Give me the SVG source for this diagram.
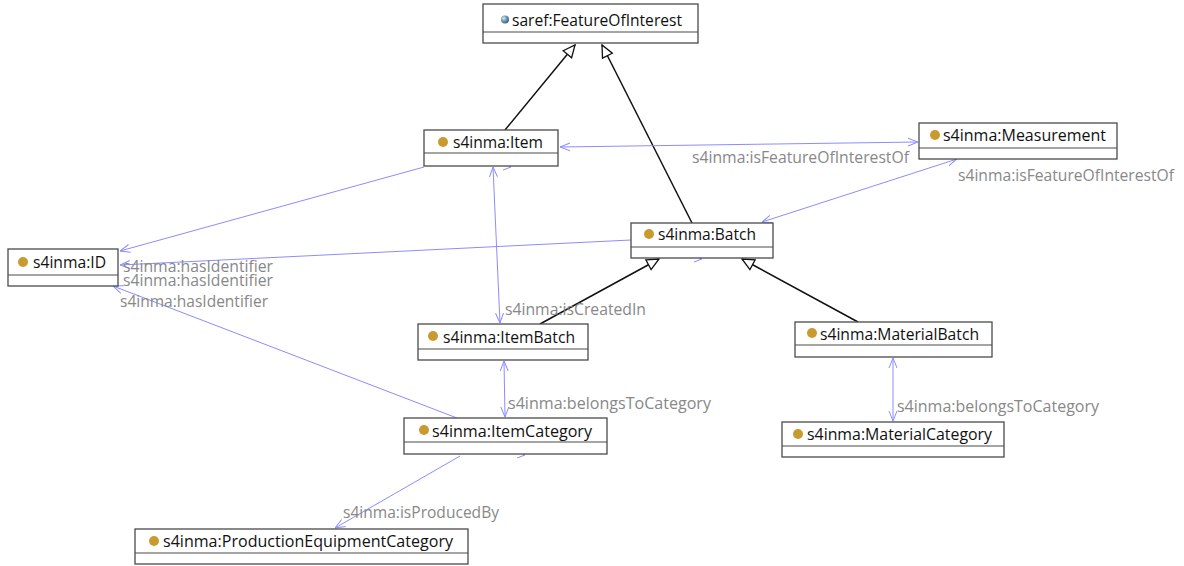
<svg xmlns="http://www.w3.org/2000/svg" width="1184" height="566" viewBox="0 0 1184 566">
<style>
.box{fill:#ffffff;stroke:#4a4a4a;stroke-width:1.3}
.div{stroke:#4a4a4a;stroke-width:1.2}
.name{font-family:"Open Sans","Noto Sans","DejaVu Sans",sans-serif;font-size:17px;fill:#111111}
.lbl{font-family:"Open Sans","Noto Sans","DejaVu Sans",sans-serif;font-size:16.5px;fill:#888888}
.dot{fill:#c99b2f}
.rel{fill:none;stroke:#8c8cff;stroke-width:1}
.gen{fill:none;stroke:#111111;stroke-width:1.5}
.chev{fill:none;stroke:#8c8cff;stroke-width:1}
</style>
<defs>
<marker id="open" viewBox="0 0 10 10" refX="10" refY="5" markerWidth="10" markerHeight="10" markerUnits="userSpaceOnUse" orient="auto-start-reverse">
<path d="M0,1 L10,5 L0,9" fill="none" stroke="#8c8cff" stroke-width="1"/>
</marker>
<marker id="tri" viewBox="0 0 14 14" refX="13" refY="7" markerWidth="14" markerHeight="14" markerUnits="userSpaceOnUse" orient="auto">
<path d="M1,1.5 L13,7 L1,12.5 Z" fill="#ffffff" stroke="#111111" stroke-width="1.3"/>
</marker>
<radialGradient id="globe" cx="0.35" cy="0.35" r="0.7">
<stop offset="0" stop-color="#e0ecf4"/>
<stop offset="0.5" stop-color="#6f9ab8"/>
<stop offset="1" stop-color="#3b5f7a"/>
</radialGradient>
</defs>

<g id="connectors">
<path class="gen" d="M505,130 L575,45" marker-end="url(#tri)"/>
<path class="gen" d="M692,223 L602,45" marker-end="url(#tri)"/>
<path class="gen" d="M540,324 L659,259" marker-end="url(#tri)"/>
<path class="gen" d="M858,322 L742,259" marker-end="url(#tri)"/>
<path class="rel" d="M560,147 L918,142" marker-start="url(#open)" marker-end="url(#open)"/>
<path class="rel" d="M957,159 L762,222" marker-start="url(#open)" marker-end="url(#open)"/>
<path class="rel" d="M424,167 L120,251" marker-end="url(#open)"/>
<path class="rel" d="M631,240 L120,265" marker-end="url(#open)"/>
<path class="rel" d="M457,418 L113,286" marker-end="url(#open)"/>
<path class="rel" d="M493,167 L500,323" marker-start="url(#open)" marker-end="url(#open)"/>
<path class="rel" d="M504,361 L505,417" marker-start="url(#open)" marker-end="url(#open)"/>
<path class="rel" d="M893,358 L893,421" marker-start="url(#open)" marker-end="url(#open)"/>
<path class="rel" d="M460,456 L335,528" marker-end="url(#open)"/>
<path class="chev" d="M503,163 L511,167 L503,170"/>
<path class="chev" d="M694,256 L702,259 L694,262"/>
<path class="chev" d="M517,451 L525,455 L517,458"/>
<text class="lbl" x="692" y="163" textLength="217" lengthAdjust="spacingAndGlyphs">s4inma:isFeatureOfInterestOf</text>
<text class="lbl" x="958" y="181" textLength="216" lengthAdjust="spacingAndGlyphs">s4inma:isFeatureOfInterestOf</text>
<text class="lbl" x="123" y="272" textLength="150" lengthAdjust="spacingAndGlyphs">s4inma:hasIdentifier</text>
<text class="lbl" x="123" y="286" textLength="150" lengthAdjust="spacingAndGlyphs">s4inma:hasIdentifier</text>
<text class="lbl" x="120" y="307" textLength="148" lengthAdjust="spacingAndGlyphs">s4inma:hasIdentifier</text>
<text class="lbl" x="505" y="315" textLength="141" lengthAdjust="spacingAndGlyphs">s4inma:isCreatedIn</text>
<text class="lbl" x="508" y="409" textLength="203" lengthAdjust="spacingAndGlyphs">s4inma:belongsToCategory</text>
<text class="lbl" x="897" y="412" textLength="202" lengthAdjust="spacingAndGlyphs">s4inma:belongsToCategory</text>
<text class="lbl" x="343" y="518" textLength="156" lengthAdjust="spacingAndGlyphs">s4inma:isProducedBy</text>
</g>

<g id="node-FeatureOfInterest">
<rect class="box" x="483" y="4" width="215" height="39"/>
<line class="div" x1="483" y1="32" x2="698" y2="32"/>
<circle cx="505" cy="19.5" r="4" fill="url(#globe)"/>
<text class="name" x="512" y="26" textLength="170" lengthAdjust="spacingAndGlyphs">saref:FeatureOfInterest</text>
</g>

<g id="node-Item">
<rect class="box" x="424" y="130" width="134" height="36"/>
<line class="div" x1="424" y1="153" x2="558" y2="153"/>
<circle class="dot" cx="443" cy="142" r="5"/>
<text class="name" x="453" y="148" textLength="90" lengthAdjust="spacingAndGlyphs">s4inma:Item</text>
</g>

<g id="node-Measurement">
<rect class="box" x="919" y="123" width="198" height="36"/>
<line class="div" x1="919" y1="148" x2="1117" y2="148"/>
<circle class="dot" cx="935" cy="135" r="5"/>
<text class="name" x="943" y="141" textLength="163" lengthAdjust="spacingAndGlyphs">s4inma:Measurement</text>
</g>

<g id="node-ID">
<rect class="box" x="8" y="249" width="110" height="37"/>
<line class="div" x1="8" y1="275" x2="118" y2="275"/>
<circle class="dot" cx="23" cy="262" r="5"/>
<text class="name" x="33" y="268" textLength="73" lengthAdjust="spacingAndGlyphs">s4inma:ID</text>
</g>

<g id="node-Batch">
<rect class="box" x="631" y="223" width="142" height="35"/>
<line class="div" x1="631" y1="247" x2="773" y2="247"/>
<circle class="dot" cx="649" cy="234" r="5"/>
<text class="name" x="658" y="240" textLength="98" lengthAdjust="spacingAndGlyphs">s4inma:Batch</text>
</g>

<g id="node-ItemBatch">
<rect class="box" x="418" y="324" width="170" height="36"/>
<line class="div" x1="418" y1="349" x2="588" y2="349"/>
<circle class="dot" cx="433" cy="336" r="5"/>
<text class="name" x="443" y="343" textLength="132" lengthAdjust="spacingAndGlyphs">s4inma:ItemBatch</text>
</g>

<g id="node-MaterialBatch">
<rect class="box" x="795" y="322" width="197" height="35"/>
<line class="div" x1="795" y1="345" x2="992" y2="345"/>
<circle class="dot" cx="812" cy="333" r="5"/>
<text class="name" x="820" y="340" textLength="159" lengthAdjust="spacingAndGlyphs">s4inma:MaterialBatch</text>
</g>

<g id="node-MaterialCategory">
<rect class="box" x="782" y="422" width="222" height="35"/>
<line class="div" x1="782" y1="446" x2="1004" y2="446"/>
<circle class="dot" cx="798" cy="434" r="5"/>
<text class="name" x="807" y="440" textLength="185" lengthAdjust="spacingAndGlyphs">s4inma:MaterialCategory</text>
</g>

<g id="node-ItemCategory">
<rect class="box" x="404" y="418" width="203" height="36"/>
<line class="div" x1="404" y1="442" x2="607" y2="442"/>
<circle class="dot" cx="424" cy="430" r="5"/>
<text class="name" x="432" y="437" textLength="160" lengthAdjust="spacingAndGlyphs">s4inma:ItemCategory</text>
</g>

<g id="node-ProductionEquipmentCategory">
<rect class="box" x="135" y="529" width="333" height="35"/>
<line class="div" x1="135" y1="553" x2="468" y2="553"/>
<circle class="dot" cx="154" cy="541" r="5"/>
<text class="name" x="163" y="547" textLength="290" lengthAdjust="spacingAndGlyphs">s4inma:ProductionEquipmentCategory</text>
</g>
</svg>
